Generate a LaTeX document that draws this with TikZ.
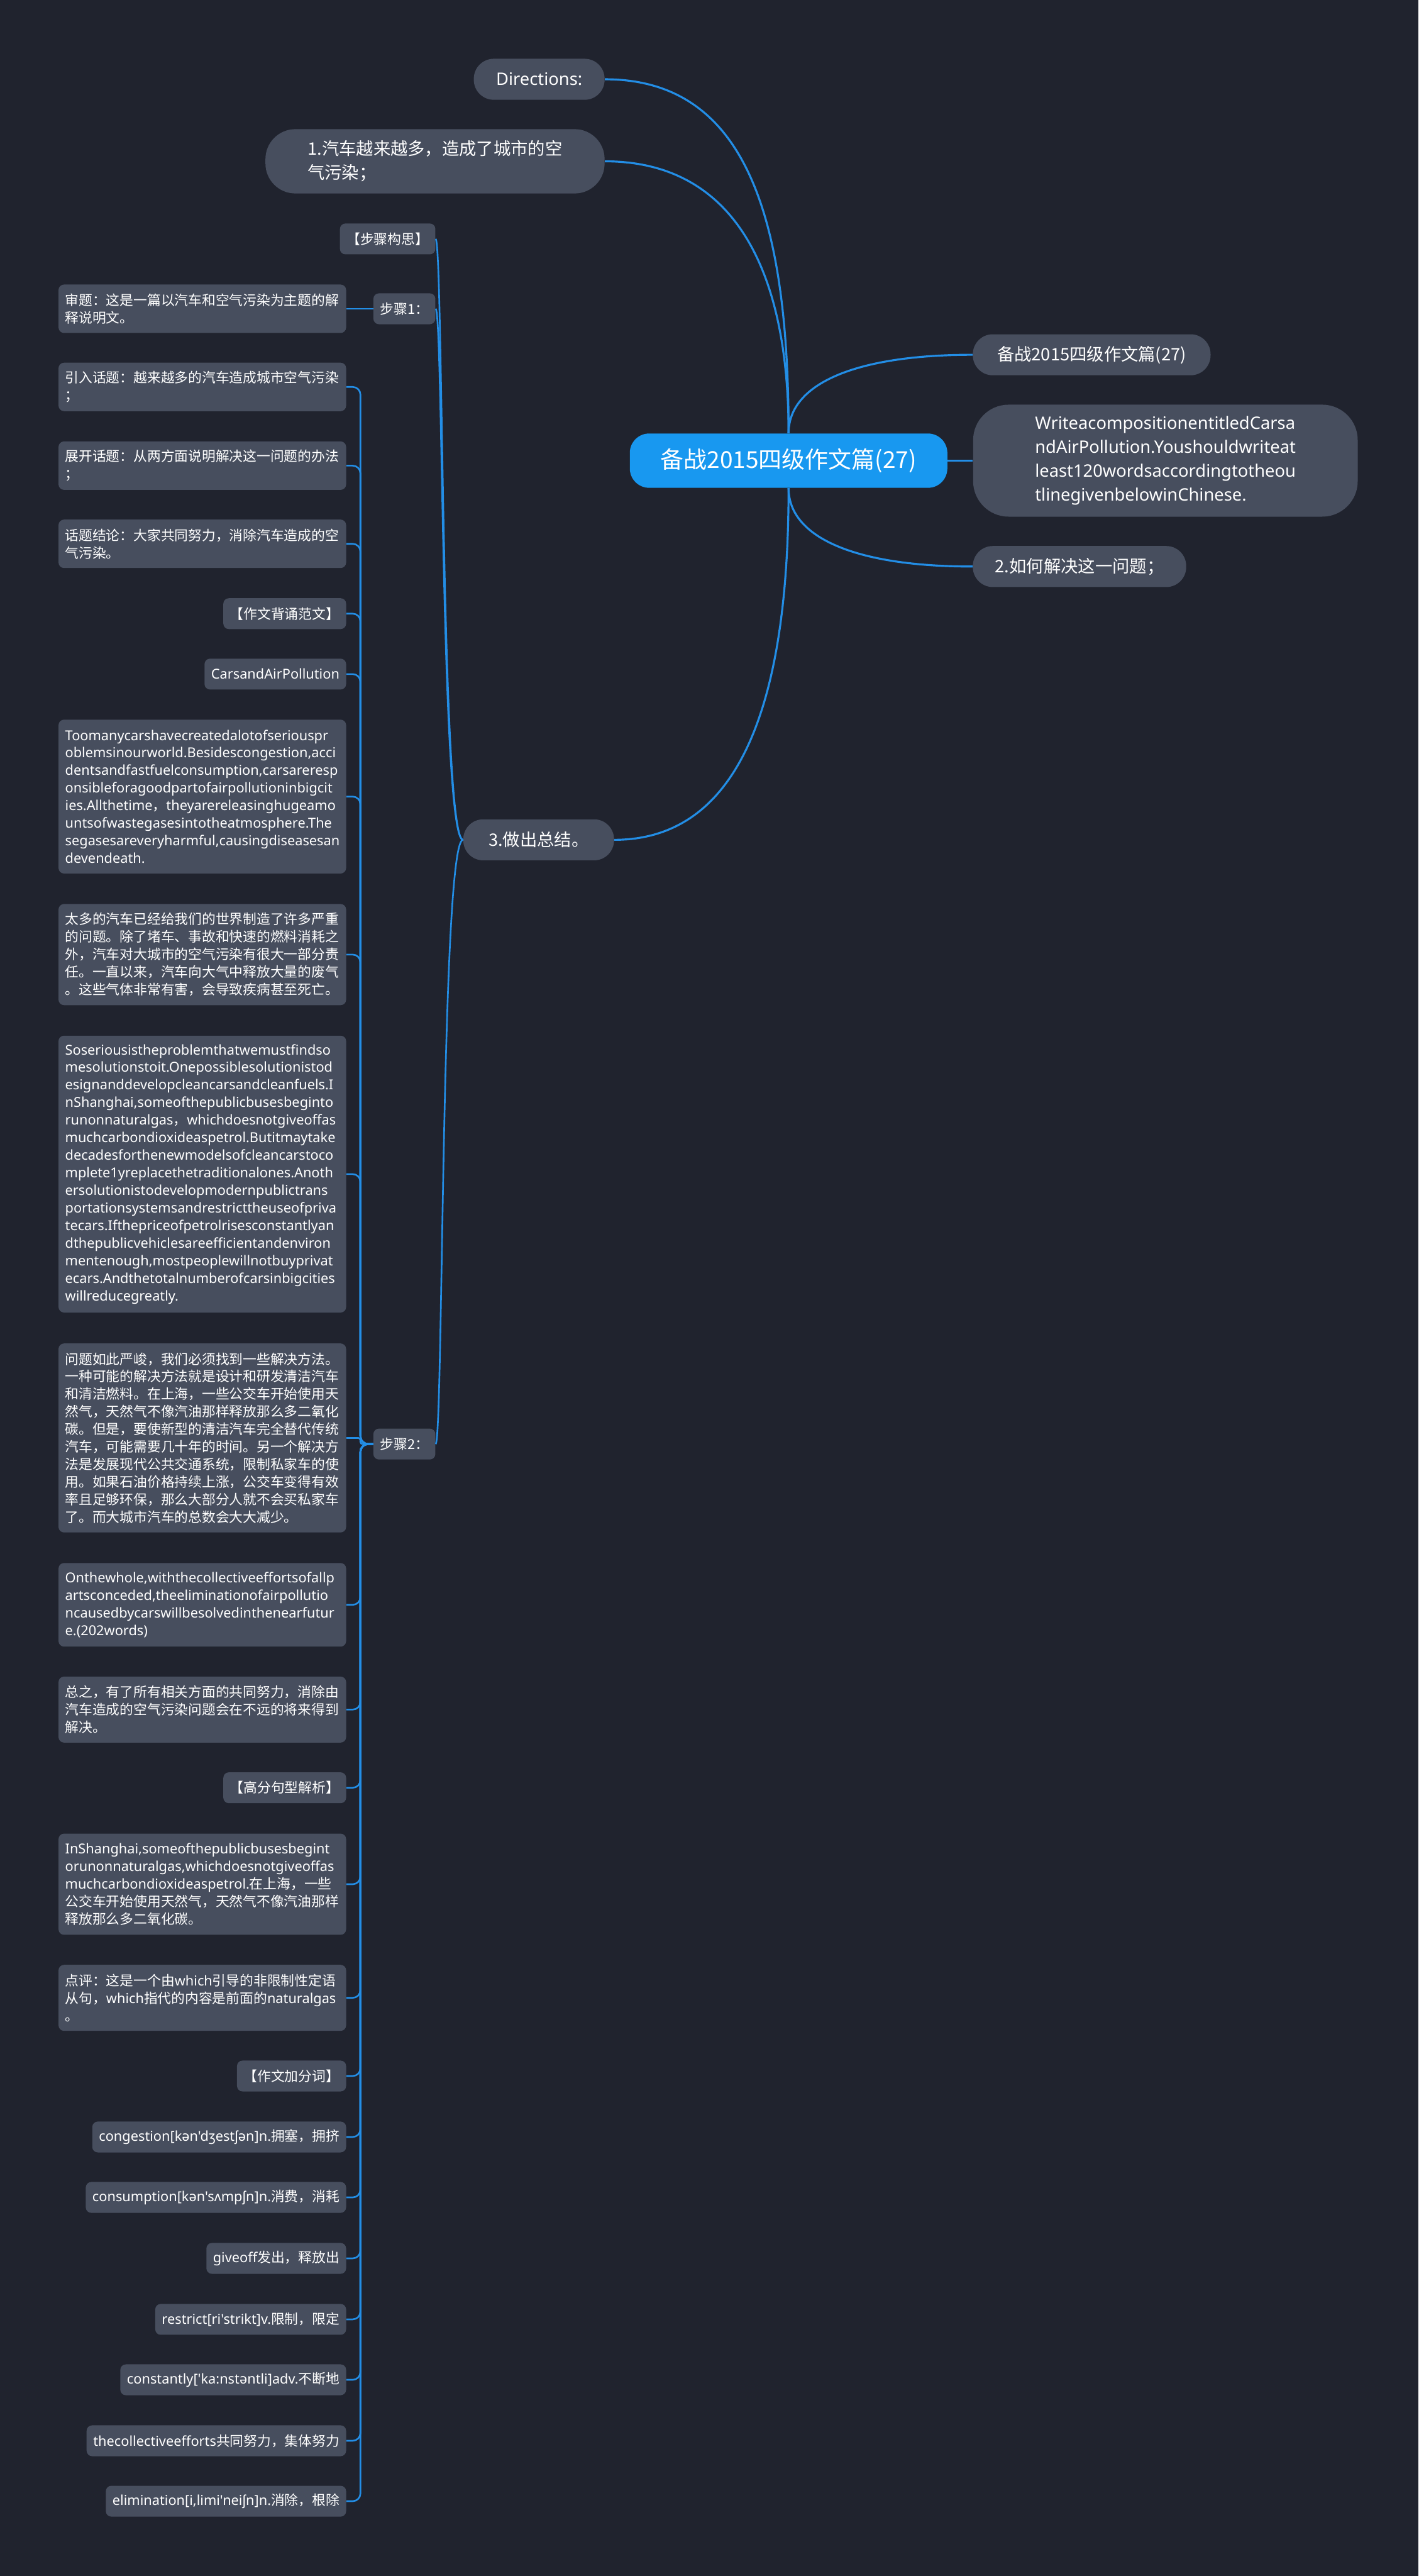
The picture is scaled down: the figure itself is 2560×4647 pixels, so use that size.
\documentclass[tikz,border=0pt]{standalone}
\usepackage{fontspec}
\setmainfont{Noto Sans CJK SC}
\newfontfamily\cjk{Noto Sans CJK SC}
\newfontfamily\lat{Noto Sans}
\hyphenpenalty=10000
\exhyphenpenalty=10000

\definecolor{bgnavy}{HTML}{20232E}
\definecolor{topicgray}{HTML}{474E5E}
\definecolor{rootblue}{HTML}{1898F0}
\definecolor{linkblue}{HTML}{238EE6}

\newcommand\rootfont{\fontsize{21}{25}\selectfont}
\newcommand\topicfont{\fontsize{15.5}{21.5}\selectfont}
\newcommand\leaffont{\fontsize{12.35}{15.85}\selectfont}

\tikzset{
  rootnode/.style={fill=rootblue,text=white,font=\rootfont,rounded corners=17.5pt,minimum width=286.5pt,minimum height=49pt},
  topic/.style={fill=topicgray,text=white,font=\topicfont,align=left,rounded corners=18pt,minimum height=37pt},
  leaf/.style={fill=topicgray,text=white,font=\leaffont,align=left,anchor=east,rounded corners=5pt,inner xsep=6pt,inner ysep=0pt,minimum height=12pt+#1*15.85pt},
  leaf/.default=1,
  wide/.style={text width=247.5pt},
  link/.style={draw=linkblue,line width=1.5pt},
  mainlink/.style={draw=linkblue,line width=1.8pt}
}

\begin{document}
\begin{tikzpicture}[x=0.5pt,y=-0.5pt]
\fill[bgnavy] (0,0) rectangle (2560,4647);
\useasboundingbox (0,0) rectangle (2560,4647);

% centre and first branches
\node[rootnode] (root) at (1423,831) {备战2015四级作文篇(27)};
\node[topic,minimum width=118pt,font=\topicfont\lat] (dirs) at (973,143) {Directions:};
\node[topic,minimum width=306pt,minimum height=58pt,rounded corners=27pt] (point1) at (785,291) {1.汽车越来越多，造成了城市的空\\气污染；};
\node[topic,minimum width=136pt] (point3) at (972,1515) {3.做出总结。};
\node[topic,minimum width=214.5pt] (title) at (1970,640) {备战2015四级作文篇(27)};
\node[topic,minimum width=347pt,minimum height=101pt,rounded corners=32pt,font=\topicfont\lat] (task) at (2103,831) {WriteacompositionentitledCarsa\\ndAirPollution.Youshouldwriteat\\least120wordsaccordingtotheou\\tlinegivenbelowinChinese.};
\node[topic,minimum width=192.5pt] (point2) at (1948,1022) {2.如何解决这一问题；};

% steps
\node[leaf] (plan) at (786,431) {【步骤构思】};
\node[leaf] (step1) at (786,557) {步骤1：};
\node[leaf=2,wide] (review) at (625,557) {审题：这是一篇以汽车和空气污染为主题的解\\释说明文。};
\node[leaf] (step2) at (786,2605) {步骤2：};

% items of step 2
\node[leaf=2,wide] (intro) at (625,698) {引入话题：越来越多的汽车造成城市空气污染\\；};
\node[leaf=2,wide] (develop) at (625,840) {展开话题：从两方面说明解决这一问题的办法\\；};
\node[leaf=2,wide] (conclude) at (625,981) {话题结论：大家共同努力，消除汽车造成的空\\气污染。};
\node[leaf] (essayhead) at (625,1107) {【作文背诵范文】};
\node[leaf,font=\leaffont\lat] (essaytitle) at (625,1216) {CarsandAirPollution};
\node[leaf=8,wide,font=\leaffont\lat] (para1) at (625,1437) {Toomanycarshavecreatedalotofseriouspr\\oblemsinourworld.Besidescongestion,acci\\dentsandfastfuelconsumption,carsareresp\\onsibleforagoodpartofairpollutioninbigcit\\ies.Allthetime{\cjk ，}theyarereleasinghugeamo\\untsofwastegasesintotheatmosphere.The\\segasesareveryharmful,causingdiseasesan\\devendeath.};
\node[leaf=5,wide] (para1cn) at (625,1722) {太多的汽车已经给我们的世界制造了许多严重\\的问题。除了堵车、事故和快速的燃料消耗之\\外，汽车对大城市的空气污染有很大一部分责\\任。一直以来，汽车向大气中释放大量的废气\\。这些气体非常有害，会导致疾病甚至死亡。};
\node[leaf=15,wide,font=\leaffont\lat] (para2) at (625,2118) {Soseriousistheproblemthatwemustfindso\\mesolutionstoit.Onepossiblesolutionistod\\esignanddevelopcleancarsandcleanfuels.I\\nShanghai,someofthepublicbusesbeginto\\runonnaturalgas{\cjk ，}whichdoesnotgiveoffas\\muchcarbondioxideaspetrol.Butitmaytake\\decadesforthenewmodelsofcleancarstoco\\mplete1yreplacethetraditionalones.Anoth\\ersolutionistodevelopmodernpublictrans\\portationsystemsandrestricttheuseofpriva\\tecars.Ifthepriceofpetrolrisesconstantlyan\\dthepublicvehiclesareefficientandenviron\\mentenough,mostpeoplewillnotbuyprivat\\ecars.Andthetotalnumberofcarsinbigcities\\willreducegreatly.};
\node[leaf=10,wide] (para2cn) at (625,2594) {问题如此严峻，我们必须找到一些解决方法。\\一种可能的解决方法就是设计和研发清洁汽车\\和清洁燃料。在上海，一些公交车开始使用天\\然气，天然气不像汽油那样释放那么多二氧化\\碳。但是，要使新型的清洁汽车完全替代传统\\汽车，可能需要几十年的时间。另一个解决方\\法是发展现代公共交通系统，限制私家车的使\\用。如果石油价格持续上涨，公交车变得有效\\率且足够环保，那么大部分人就不会买私家车\\了。而大城市汽车的总数会大大减少。};
\node[leaf=4,wide,font=\leaffont\lat] (para3) at (625,2895) {Onthewhole,withthecollectiveeffortsofallp\\artsconceded,theeliminationofairpollutio\\ncausedbycarswillbesolvedinthenearfutur\\e.(202words)};
\node[leaf=3,wide] (para3cn) at (625,3084) {总之，有了所有相关方面的共同努力，消除由\\汽车造成的空气污染问题会在不远的将来得到\\解决。};
\node[leaf] (sentencehead) at (625,3225) {【高分句型解析】};
\node[leaf=5,wide] (sentence) at (625,3399) {{\lat InShanghai,someofthepublicbusesbegint}\\{\lat orunonnaturalgas,whichdoesnotgiveoffas}\\{\lat muchcarbondioxideaspetrol.}在上海，一些\\公交车开始使用天然气，天然气不像汽油那样\\释放那么多二氧化碳。};
\node[leaf=3,wide] (comment) at (625,3604) {点评：这是一个由{\lat which}引导的非限制性定语\\从句，{\lat which}指代的内容是前面的{\lat naturalgas}\\。};
\node[leaf] (wordhead) at (625,3745) {【作文加分词】};
\node[leaf] (word1) at (625,3855) {{\lat congestion[kən'dʒestʃən]n.}拥塞，拥挤};
\node[leaf] (word2) at (625,3964) {{\lat consumption[kən'sʌmpʃn]n.}消费，消耗};
\node[leaf] (word3) at (625,4074) {{\lat giveoff}发出，释放出};
\node[leaf] (word4) at (625,4184) {{\lat restrict[ri'strikt]v.}限制，限定};
\node[leaf] (word5) at (625,4293) {{\lat constantly['ka:nstəntli]adv.}不断地};
\node[leaf] (word6) at (625,4403) {{\lat thecollectiveefforts}共同努力，集体努力};
\node[leaf] (word7) at (625,4512) {{\lat elimination[i,limi'neiʃn]n.}消除，根除};

% connectors from the centre
\draw[mainlink] (root.north) .. controls +(0,-400) and +(250,0) .. (dirs.east);
\draw[mainlink] (root.north) .. controls +(0,-300) and +(230,0) .. (point1.east);
\draw[mainlink] (root.south) .. controls +(0,380) and +(230,0) .. (point3.east);
\draw[mainlink] (root.north) .. controls +(0,-90) and +(-210,0) .. (title.west);
\draw[mainlink] (root.east) -- (task.west);
\draw[mainlink] (root.south) .. controls +(0,90) and +(-210,0) .. (point2.west);

% connectors of the steps
\draw[link] (point3.west) .. controls +(-40,0) and +(14,0) .. (plan.east);
\draw[link] (point3.west) .. controls +(-40,0) and +(14,0) .. (step1.east);
\draw[link] (point3.west) .. controls +(-40,0) and +(14,0) .. (step2.east);
\draw[link] (step1.west) -- (review.east);

\draw[link,rounded corners=7pt] (step2.west) -- ++(-23,0) |- (intro.east);
\draw[link,rounded corners=7pt] (step2.west) -- ++(-23,0) |- (develop.east);
\draw[link,rounded corners=7pt] (step2.west) -- ++(-23,0) |- (conclude.east);
\draw[link,rounded corners=7pt] (step2.west) -- ++(-23,0) |- (essayhead.east);
\draw[link,rounded corners=7pt] (step2.west) -- ++(-23,0) |- (essaytitle.east);
\draw[link,rounded corners=7pt] (step2.west) -- ++(-23,0) |- (para1.east);
\draw[link,rounded corners=7pt] (step2.west) -- ++(-23,0) |- (para1cn.east);
\draw[link,rounded corners=7pt] (step2.west) -- ++(-23,0) |- (para2.east);
\draw[link,rounded corners=2pt] (step2.west) -- ++(-23,0) |- (para2cn.east);
\draw[link,rounded corners=7pt] (step2.west) -- ++(-23,0) |- (para3.east);
\draw[link,rounded corners=7pt] (step2.west) -- ++(-23,0) |- (para3cn.east);
\draw[link,rounded corners=7pt] (step2.west) -- ++(-23,0) |- (sentencehead.east);
\draw[link,rounded corners=7pt] (step2.west) -- ++(-23,0) |- (sentence.east);
\draw[link,rounded corners=7pt] (step2.west) -- ++(-23,0) |- (comment.east);
\draw[link,rounded corners=7pt] (step2.west) -- ++(-23,0) |- (wordhead.east);
\draw[link,rounded corners=7pt] (step2.west) -- ++(-23,0) |- (word1.east);
\draw[link,rounded corners=7pt] (step2.west) -- ++(-23,0) |- (word2.east);
\draw[link,rounded corners=7pt] (step2.west) -- ++(-23,0) |- (word3.east);
\draw[link,rounded corners=7pt] (step2.west) -- ++(-23,0) |- (word4.east);
\draw[link,rounded corners=7pt] (step2.west) -- ++(-23,0) |- (word5.east);
\draw[link,rounded corners=7pt] (step2.west) -- ++(-23,0) |- (word6.east);
\draw[link,rounded corners=7pt] (step2.west) -- ++(-23,0) |- (word7.east);
\end{tikzpicture}
\end{document}
